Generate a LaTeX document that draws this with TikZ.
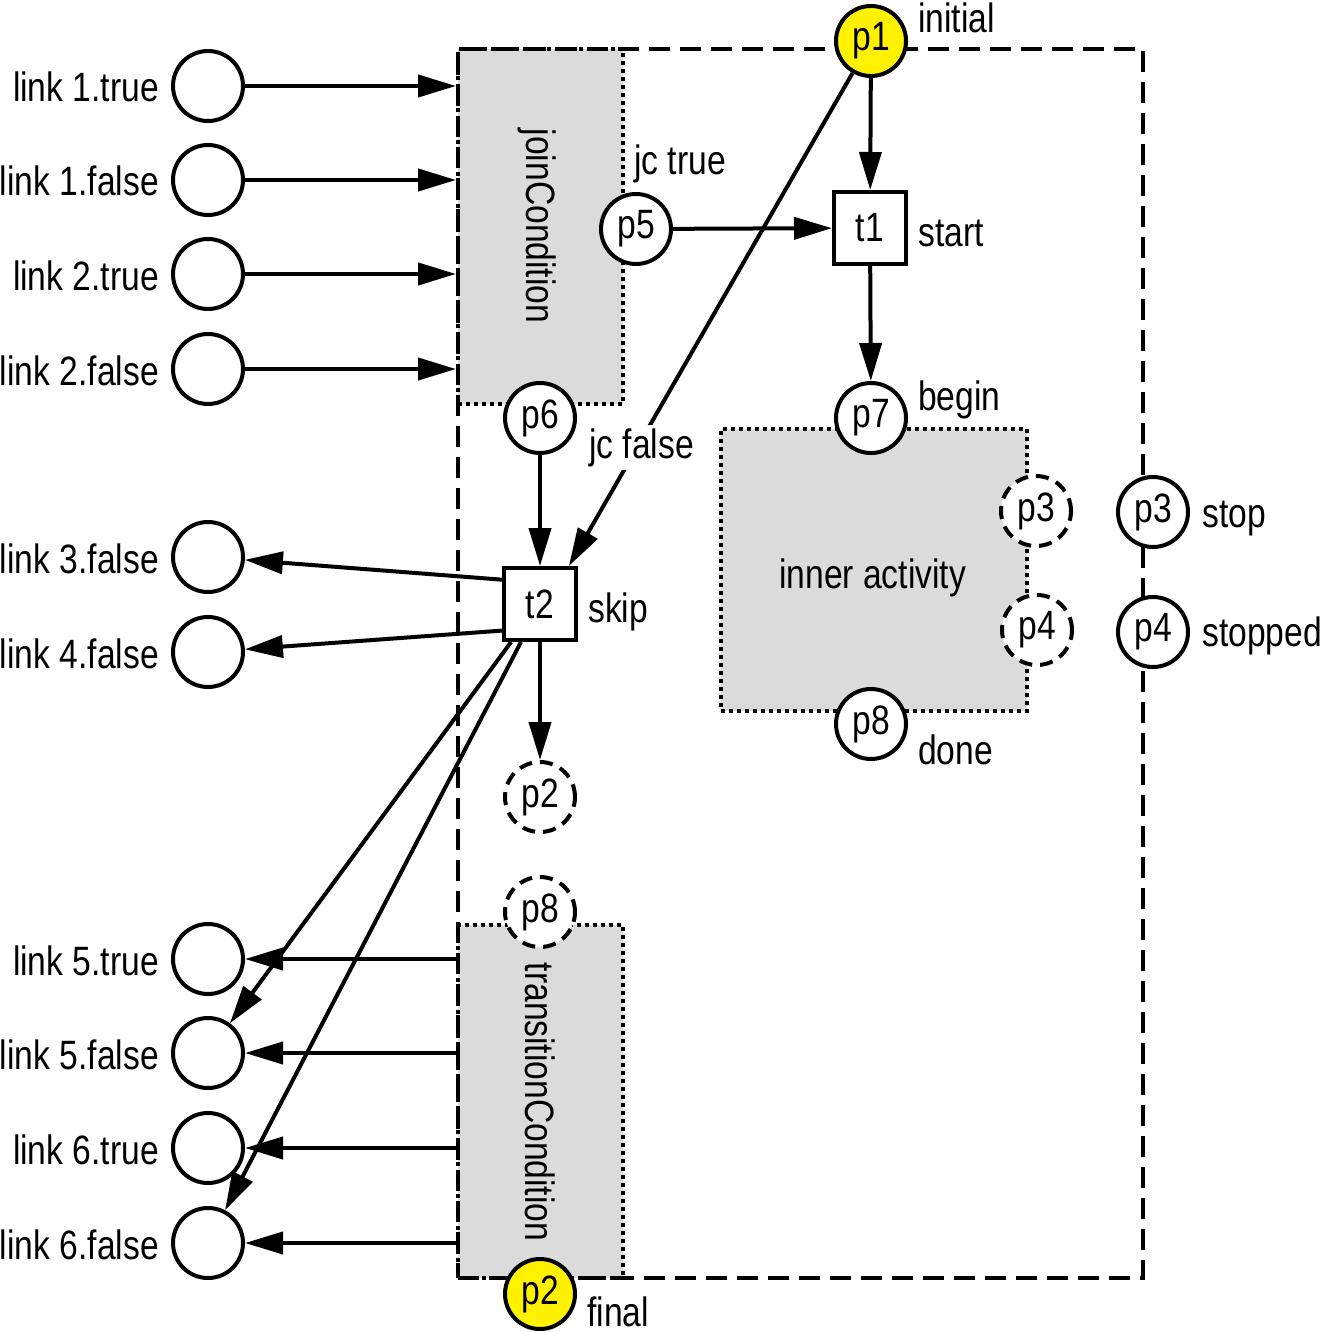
\documentclass[tikz,border=0pt]{standalone}
\usepackage{fontspec}
\setmainfont{Liberation Sans}[FakeStretch=0.82]
\usetikzlibrary{arrows.meta,calc}

\begin{document}
\begin{tikzpicture}[x=1pt,y=-1pt,
  every node/.style={font=\fontsize{41}{48}\selectfont},
  place/.style={circle,draw,line width=4pt,minimum size=70pt,inner sep=0pt,fill=white},
  ghost/.style={place,dash pattern=on 13pt off 8pt},
  token/.style={place,fill=yellow},
  trans/.style={draw,line width=4pt,minimum size=72pt,inner sep=0pt,fill=white},
  region/.style={fill=black!14,draw,line width=4pt,dash pattern=on 4pt off 4pt,inner sep=0pt},
  scopebox/.style={draw,line width=4pt,dash pattern=on 21pt off 10pt,inner sep=0pt},
  arc/.style={line width=4pt,-{Triangle[length=38pt,width=22pt]}},
  lbl/.style={anchor=base west,inner sep=0pt},
  linklbl/.style={anchor=base east,inner sep=0pt},
]
\useasboundingbox (0,0) rectangle (1321,1332);

% grey regions
\node[region,minimum width=165pt,minimum height=355pt] (jc) at (540.5,226.5) {};
\node[region,minimum width=306pt,minimum height=282pt] (inner) at (874,570) {};
\node[region,minimum width=165pt,minimum height=353pt] (tc) at (540.5,1101.5) {};
\node[rotate=-90,inner sep=0pt] (jctext) at (537,226) {joinCondition};
\node[rotate=-90,inner sep=0pt] (tctext) at (540,1102) {transitionCondition};
\node[lbl] (innertext) at (779,588) {inner activity};

% activity scope
\node[scopebox,minimum width=685pt,minimum height=1229pt] (act) at (800.5,663.5) {};

% incoming and outgoing links
\foreach \n/\y/\t in {l1t/86/link 1.true, l1f/180/link 1.false, l2t/274/link 2.true,
    l2f/369/link 2.false, l3f/557/link 3.false, l4f/652/link 4.false,
    l5t/959/link 5.true, l5f/1053/link 5.false, l6t/1148/link 6.true, l6f/1243/link 6.false}{
  \node[place] (\n) at (208,\y) {};
  \node[linklbl] (\n-lbl) at (159,\y+16) {\t};
}

% places and transitions
\node[token] (p1) at (871,41) {p1};
\node[lbl] (p1-lbl) at (918,33) {initial};
\node[trans] (t1) at (870,228) {t1};
\node[lbl] (t1-lbl) at (918,247) {start};
\node[place] (p5) at (636,229) {p5};
\node[lbl] (p5-lbl) at (634,175) {jc true};
\node[place] (p6) at (540,418) {p6};
\node[place] (p7) at (871,418) {p7};
\node[lbl] (p7-lbl) at (918,410) {begin};
\node[place] (p8) at (871,724) {p8};
\node[lbl] (p8-lbl) at (918,764) {done};
\node[ghost] (p3g) at (1036,511) {p3};
\node[ghost] (p4g) at (1037,630) {p4};
\node[place] (p3) at (1153,512) {p3};
\node[lbl] (p3-lbl) at (1202,527) {stop};
\node[place] (p4) at (1153,632) {p4};
\node[lbl] (p4-lbl) at (1202,646) {stopped};
\node[trans] (t2) at (540,604) {t2};
\node[lbl] (t2-lbl) at (588,622) {skip};
\node[ghost] (p2g) at (540,797) {p2};
\node[ghost] (p8g) at (540,912) {p8};
\node[token] (p2) at (540,1294) {p2};
\node[lbl] (p2-lbl) at (587,1326) {final};

% arcs into the join condition
\foreach \n in {l1t,l1f,l2t,l2f}
  \draw[arc] (\n) -- (\n -| jc.west);

% arcs out of the transition condition
\foreach \n in {l5t,l5f,l6t,l6f}
  \draw[arc] (\n -| tc.west) -- (\n);

% normal flow
\draw[arc] (p1) -- (t1);
\draw[arc] (p5) -- (t1);
\draw[arc] (t1) -- (p7);

% skip path
\coordinate (t2in) at ($(t2.north west)!0.88!(t2.north east)$);
\draw[arc] (p1) -- (t2in);
\node[anchor=base west,inner sep=3pt,fill=white] (p6-lbl) at (586,458) {jc false};
\draw[arc] (p6) -- (t2);
\draw[arc] (t2) -- (p2g);
\draw[arc] ($(t2.north west)!0.18!(t2.south west)$) -- (l3f);
\draw[arc] ($(t2.north west)!0.85!(t2.south west)$) -- (l4f);
\draw[arc] ($(t2.south west)!0.12!(t2.south east)$) -- (l5f);
\draw[arc] ($(t2.south west)!0.25!(t2.south east)$) -- (l6f);
\end{tikzpicture}
\end{document}
